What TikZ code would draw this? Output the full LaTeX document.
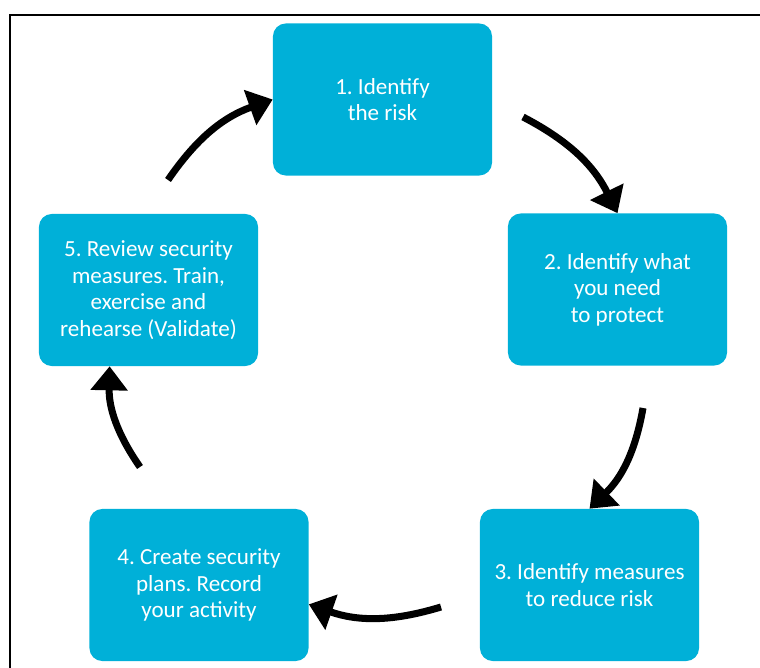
\documentclass[tikz,border=0pt]{standalone}
\usepackage{fontspec}
\setmainfont{Carlito}
\usetikzlibrary{arrows.meta}
\definecolor{stageblue}{RGB}{0,176,216}
\frenchspacing

\begin{document}
\begin{tikzpicture}[x=0.025cm, y=0.025cm,
  stage/.style={fill=stageblue, rounded corners=0.32cm, minimum width=5.475cm,
    minimum height=3.8cm, inner sep=2pt, align=center, text=white,
    font=\fontsize{16.4}{18.9}\selectfont},
  cycarrow/.style={line width=5pt, -{Triangle[length=0.6cm, width=0.9cm]}}]
  % Fix the page size
  \useasboundingbox (0,0) rectangle (760,668);

  % Draw the frame (left and top edges only)
  \draw[line width=1.5pt] (10,0) -- (10,653) -- (760,653);

  % Place the five stages round the cycle
  \node[stage] (risk) at (382.5,568.5) {1. Identify\\the risk};
  \node[stage] (protect) at (617.5,378.5) {2. Identify what\\you need\\to protect};
  \node[stage] (measures) at (589.5,83) {3. Identify measures\\to reduce risk};
  \node[stage] (plans) at (199,83) {4. Create security\\plans. Record\\your activity};
  \node[stage] (review) at (148.5,378) {5. Review security\\measures. Train,\\exercise and\\rehearse (Validate)};

  % Free ends of the arrows
  \coordinate (tail1) at (168,488);
  \coordinate (tail2) at (523,551);
  \coordinate (tail3) at (643,260);
  \coordinate (tail4) at (441,61);
  \coordinate (tail5) at (140,201);

  % Draw the cycle arrows
  \draw[cycarrow] (tail1) to[bend left=18] (risk.west);
  \draw[cycarrow] (tail2) to[bend left=18] (protect.north);
  \draw[cycarrow] (tail3) to[bend left=18] (measures.north);
  \draw[cycarrow] (tail4) to[bend left=18] (plans.-10);
  \draw[cycarrow] (tail5) to[bend left=18] (review.243);

\end{tikzpicture}
\end{document}
